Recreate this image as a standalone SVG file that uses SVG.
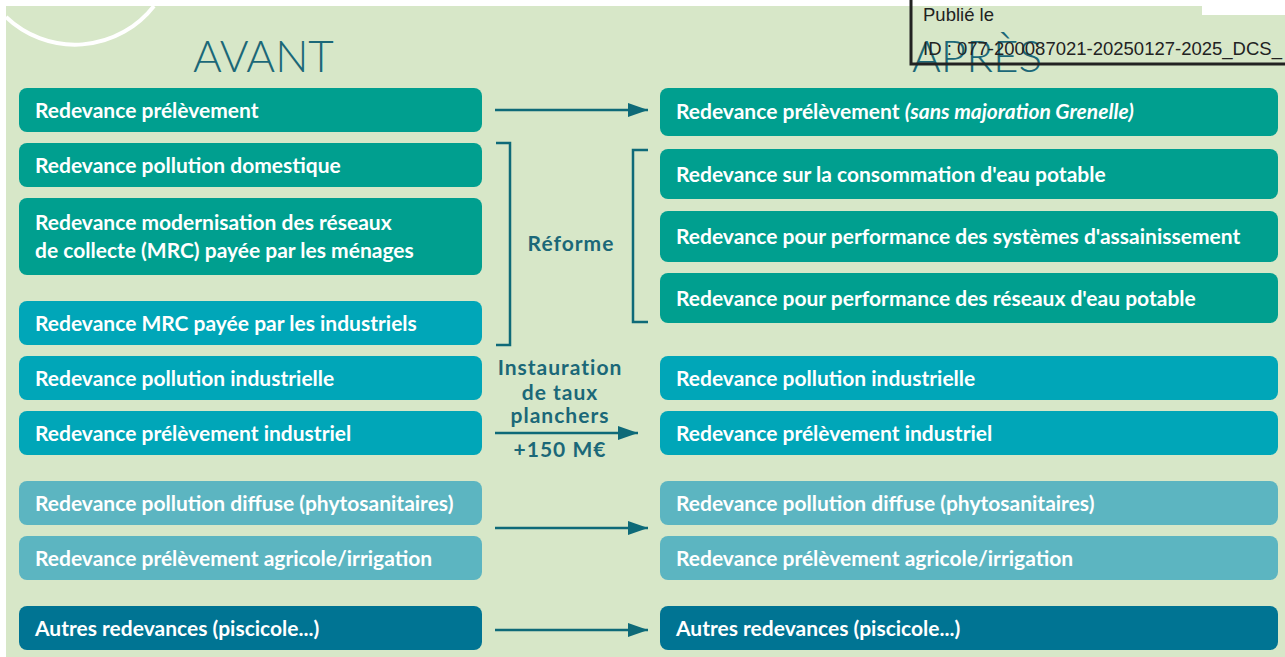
<svg xmlns="http://www.w3.org/2000/svg" width="1285" height="657" viewBox="0 0 1285 657">
<defs>
<style>
.t{font-family:Lato,"Liberation Sans",sans-serif;font-weight:700;font-size:21px;fill:#ffffff}
.it{font-style:italic}
.lbl{font-family:Lato,"Liberation Sans",sans-serif;font-weight:700;font-size:21px;letter-spacing:1px;fill:#1b6878;text-anchor:middle}
.hd{font-family:Lato,"Liberation Sans",sans-serif;font-weight:300;font-size:44px;fill:#1b6878}
.g{fill:#009f8f}
.c{fill:#00a6b8}
.l{fill:#5cb5c1}
.d{fill:#007493}
.ln{stroke:#0e6a78;stroke-width:2.5;fill:none}
.st{font-family:"Liberation Sans",Arial,sans-serif;font-size:18.5px;fill:#222222}
</style>
<marker id="ah2" viewBox="0 0 20 14" markerWidth="20" markerHeight="14" refX="20" refY="7" orient="auto" markerUnits="userSpaceOnUse">
<path d="M0,0 L20,7 L0,14 Z" fill="#0e6a78"/>
</marker>
</defs>
<rect x="0" y="0" width="1285" height="657" fill="#ffffff"/>
<rect x="6" y="6" width="1279" height="651" fill="#d7e7c8"/>
<rect x="1202" y="0" width="83" height="15" fill="#ffffff"/>
<path d="M6,17 A100,100 0 0 0 154,6" fill="none" stroke="#ffffff" stroke-width="4"/>
<text class="hd" x="193" y="72">AVANT</text>
<text class="hd" x="912" y="72">APRÈS</text>

<g id="a1"><rect class="g" x="19" y="88" width="463" height="44" rx="8"/><text class="t" x="35" y="118">Redevance prélèvement</text></g>
<g id="a2"><rect class="g" x="19" y="143" width="463" height="44" rx="8"/><text class="t" x="35" y="173">Redevance pollution domestique</text></g>
<g id="a3"><rect class="g" x="19" y="198" width="463" height="77" rx="8"/><text class="t" x="35" y="230">Redevance modernisation des réseaux</text><text class="t" x="35" y="258">de collecte (MRC) payée par les ménages</text></g>
<g id="a4"><rect class="c" x="19" y="301" width="463" height="44" rx="8"/><text class="t" x="35" y="331">Redevance MRC payée par les industriels</text></g>
<g id="a5"><rect class="c" x="19" y="356" width="463" height="44" rx="8"/><text class="t" x="35" y="386">Redevance pollution industrielle</text></g>
<g id="a6"><rect class="c" x="19" y="411" width="463" height="44" rx="8"/><text class="t" x="35" y="441">Redevance prélèvement industriel</text></g>
<g id="a7"><rect class="l" x="19" y="481" width="463" height="44" rx="8"/><text class="t" x="35" y="511">Redevance pollution diffuse (phytosanitaires)</text></g>
<g id="a8"><rect class="l" x="19" y="536" width="463" height="44" rx="8"/><text class="t" x="35" y="566">Redevance prélèvement agricole/irrigation</text></g>
<g id="a9"><rect class="d" x="19" y="606" width="463" height="44" rx="8"/><text class="t" x="35" y="636">Autres redevances (piscicole...)</text></g>

<g id="b1"><rect class="g" x="660" y="88" width="618" height="48" rx="8"/><text class="t" x="676" y="119">Redevance prélèvement <tspan class="it">(sans majoration Grenelle)</tspan></text></g>
<g id="b2"><rect class="g" x="660" y="149" width="618" height="50" rx="8"/><text class="t" x="676" y="182">Redevance sur la consommation d'eau potable</text></g>
<g id="b3"><rect class="g" x="660" y="211" width="618" height="51" rx="8"/><text class="t" x="676" y="244">Redevance pour performance des systèmes d'assainissement</text></g>
<g id="b4"><rect class="g" x="660" y="273" width="618" height="50" rx="8"/><text class="t" x="676" y="306">Redevance pour performance des réseaux d'eau potable</text></g>
<g id="b5"><rect class="c" x="660" y="356" width="618" height="44" rx="8"/><text class="t" x="676" y="386">Redevance pollution industrielle</text></g>
<g id="b6"><rect class="c" x="660" y="411" width="618" height="44" rx="8"/><text class="t" x="676" y="441">Redevance prélèvement industriel</text></g>
<g id="b7"><rect class="l" x="660" y="481" width="618" height="44" rx="8"/><text class="t" x="676" y="511">Redevance pollution diffuse (phytosanitaires)</text></g>
<g id="b8"><rect class="l" x="660" y="536" width="618" height="44" rx="8"/><text class="t" x="676" y="566">Redevance prélèvement agricole/irrigation</text></g>
<g id="b9"><rect class="d" x="660" y="606" width="618" height="44" rx="8"/><text class="t" x="676" y="636">Autres redevances (piscicole...)</text></g>

<g id="connectors">
<line class="ln" x1="495" y1="110" x2="648" y2="110" marker-end="url(#ah2)"/>
<line class="ln" x1="495" y1="433" x2="638" y2="433" marker-end="url(#ah2)"/>
<line class="ln" x1="495" y1="528" x2="648" y2="528" marker-end="url(#ah2)"/>
<line class="ln" x1="495" y1="630" x2="648" y2="630" marker-end="url(#ah2)"/>
<path class="ln" d="M496,143 H510 V345 H496"/>
<path class="ln" d="M648,150 H633 V322 H648"/>
</g>
<g id="labels">
<text class="lbl" x="571" y="251">Réforme</text>
<text class="lbl" x="560" y="375">Instauration</text>
<text class="lbl" x="560" y="400">de taux</text>
<text class="lbl" x="560" y="423">planchers</text>
<text class="lbl" x="560" y="457">+150 M€</text>
</g>
<g id="stamp">
<path d="M911,0 V64 H1285" fill="none" stroke="#222222" stroke-width="3"/>
<text class="st" x="923" y="21">Publié le</text>
<text class="st" x="923" y="55">ID : 077-200087021-20250127-2025_DCS_</text>
</g>
</svg>
